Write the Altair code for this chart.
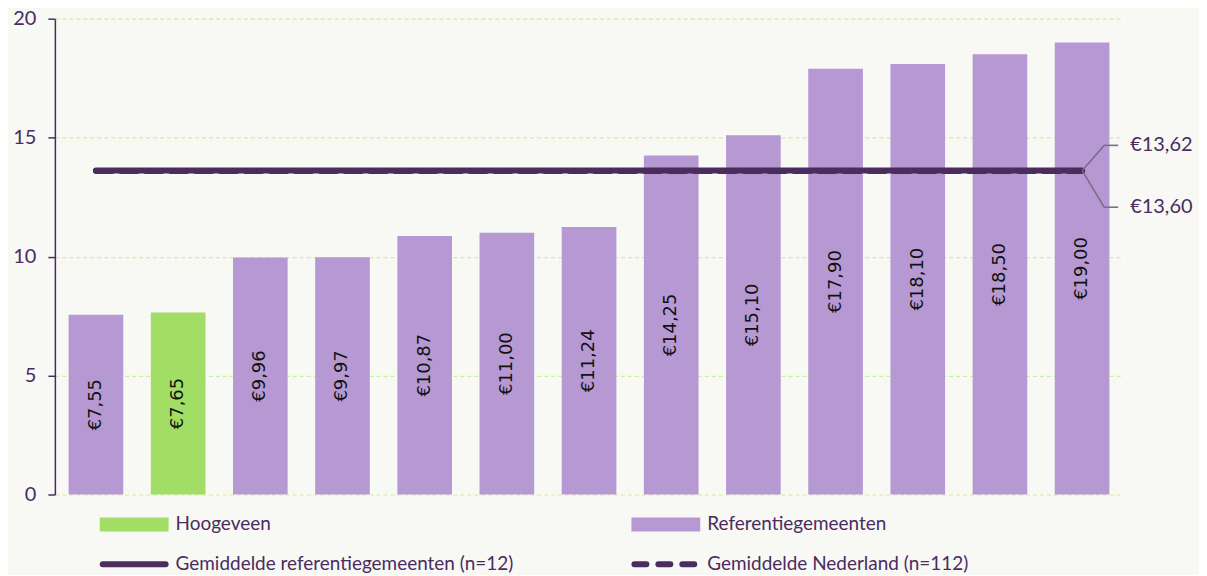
import altair as alt
import pandas as pd

# ---- data ----
VALUES = [7.55, 7.65, 9.96, 9.97, 10.87, 11.00, 11.24, 14.25, 15.10, 17.90, 18.10, 18.50, 19.00]
GROUPS = ["Referentiegemeenten", "Hoogeveen"] + ["Referentiegemeenten"] * 11
AVG_REF = 13.62   # Gemiddelde referentiegemeenten (n=12)
AVG_NL = 13.60    # Gemiddelde Nederland (n=112)
Y_TICKS = [0, 5, 10, 15, 20]
LEGEND_LABELS = ["Hoogeveen", "Referentiegemeenten",
                 "Gemiddelde referentiegemeenten (n=12)", "Gemiddelde Nederland (n=112)"]

PURPLE = "#b699d2"
GREEN = "#a2de66"
DARK = "#4a2c5f"
GRID = "#c9f29a"
BG = "#f8f8f4"
FONT = "Lato"

W, H = 1071, 477


def euro(v):
    return "€" + f"{v:.2f}".replace(".", ",")


df = pd.DataFrame({"pos": list(range(len(VALUES))), "value": VALUES, "group": GROUPS})
df["label"] = [euro(v) for v in VALUES]
df["mid"] = df["value"] / 2
df["avg_ref"] = AVG_REF
df["avg_nl"] = AVG_NL

x = alt.X("pos:O", axis=None, scale=alt.Scale(paddingInner=0.335, paddingOuter=0.1675))
yscale = alt.Scale(domain=[0, 20], nice=False)

base = alt.Chart(df)

bars = base.mark_bar().encode(
    x=x,
    y=alt.Y("value:Q", scale=yscale,
            axis=alt.Axis(values=Y_TICKS, title=None, grid=True, gridColor=GRID,
                          gridDash=[4, 3], gridWidth=1.2, domainColor=DARK, domainWidth=1.5,
                          tickColor=DARK, tickSize=7, tickWidth=1.5, labelFont=FONT,
                          labelFontSize=20, labelColor=DARK, labelPadding=12)),
    color=alt.Color("group:N", scale=alt.Scale(domain=["Hoogeveen", "Referentiegemeenten"],
                                               range=[GREEN, PURPLE]), legend=None),
)

labels = base.mark_text(angle=270, font="DejaVu Sans", fontSize=18, color="#111111",
                        baseline="middle", align="center").encode(
    x=x, y=alt.Y("mid:Q", scale=yscale), text="label:N")

line_nl = base.mark_line(color=DARK, strokeWidth=6, strokeCap="round",
                         strokeDash=[16, 9]).encode(x=x, y=alt.Y("avg_nl:Q", scale=yscale))
line_ref = base.mark_line(color=DARK, strokeWidth=6, strokeCap="round").encode(
    x=x, y=alt.Y("avg_ref:Q", scale=yscale))

# ---- annotation of the two averages at the right ----
ann = pd.DataFrame({"v": [AVG_REF, AVG_NL], "txt": [euro(AVG_REF), euro(AVG_NL)],
                    "ty": [127, 189]})
CONN = "#7d6c89"
layers_ann = []
for i, row in ann.iterrows():
    d = pd.DataFrame([row])
    c = alt.Chart(d)
    layers_ann.append(c.mark_rule(color=CONN, strokeWidth=1.6).encode(
        x=alt.value(1030), x2=alt.value(1052),
        y=alt.Y("v:Q", scale=yscale), y2=alt.value(int(row["ty"]))))
    layers_ann.append(c.mark_rule(color=CONN, strokeWidth=1.6).encode(
        x=alt.value(1052), x2=alt.value(1066),
        y=alt.value(int(row["ty"])), y2=alt.value(int(row["ty"]))))
    layers_ann.append(c.mark_text(font=FONT, fontSize=20, color=DARK, align="left",
                                  baseline="middle").encode(
        x=alt.value(1078), y=alt.value(int(row["ty"])), text="txt:N"))

# ---- custom legend below the plot ----
leg = []
col_x = [45, 578]
row_y = [507, 547]
sym = [("rect", GREEN), ("rect", PURPLE), ("solid", DARK), ("dash", DARK)]
for i, lab in enumerate(LEGEND_LABELS):
    cx = col_x[i % 2]
    ry = row_y[i // 2]
    d = pd.DataFrame({"t": [lab]})
    c = alt.Chart(d)
    kind, colr = sym[i]
    if kind == "rect":
        leg.append(c.mark_rect(color=colr).encode(
            x=alt.value(cx), x2=alt.value(cx + 69), y=alt.value(ry - 7), y2=alt.value(ry + 7)))
    elif kind == "solid":
        leg.append(c.mark_rule(color=colr, strokeWidth=6, strokeCap="round").encode(
            x=alt.value(cx + 3), x2=alt.value(cx + 66), y=alt.value(ry), y2=alt.value(ry)))
    else:
        leg.append(c.mark_rule(color=colr, strokeWidth=6, strokeCap="round",
                               strokeDash=[12, 12]).encode(
            x=alt.value(cx + 3), x2=alt.value(cx + 66), y=alt.value(ry), y2=alt.value(ry)))
    leg.append(c.mark_text(font=FONT, fontSize=19, color=DARK, align="left",
                           baseline="middle").encode(
        x=alt.value(cx + 76), y=alt.value(ry), text="t:N"))

chart = alt.layer(bars, labels, line_nl, line_ref, *layers_ann, *leg).properties(
    width=W, height=H,
    autosize=alt.AutoSizeParams(type="none"),
    padding={"left": 47, "top": 10, "right": 76, "bottom": 80},
    background=BG,
).configure_view(stroke=None)

chart.save("out.html", embed_options={"renderer": "svg", "actions": False})
